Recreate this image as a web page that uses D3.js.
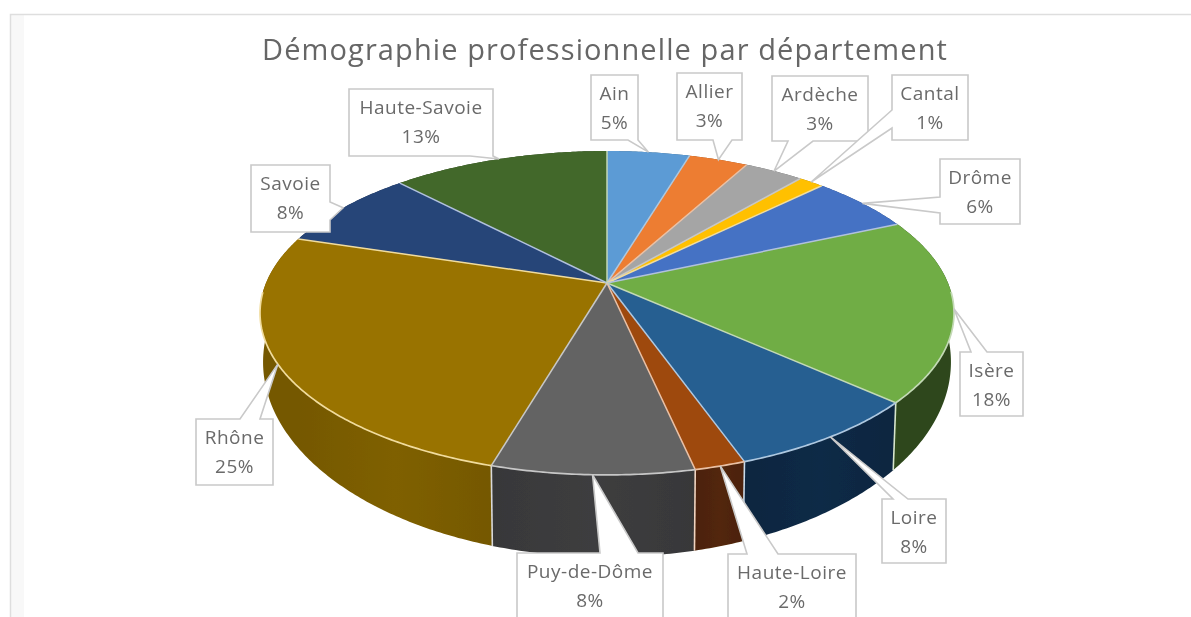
<!DOCTYPE html>
<html><head><meta charset="utf-8">
<script src="https://cdn.jsdelivr.net/npm/d3@7"></script>
<style>html,body{margin:0;padding:0;background:#fff;overflow:hidden}svg{display:block}</style>
</head><body><svg id="c" width="1191" height="617"></svg>
<script>
// ---- data ----
const titleText = "Démographie professionnelle par département";
const departments = ["Ain","Allier","Ardèche","Cantal","Drôme","Isère","Loire","Haute-Loire","Puy-de-Dôme","Rhône","Savoie","Haute-Savoie"];
const shares = [4.6,3.3,3.3,1.4,5.8,18.3,7.9,2.0,7.9,25.3,8.1,12.1];
const shareLabels = ["5%","3%","3%","1%","6%","18%","8%","2%","8%","25%","8%","13%"];
const topColors = ["#5b9bd5","#ed7d31","#a5a5a5","#ffc000","#4472c4","#6fad45","#255e91","#9e480e","#636363","#997300","#264478","#43682b"];
const wallColors = ["#37607f","#8e4b1d","#636363","#997300","#294477","#2f4a1b","#0f2843","#4f2407","#3a3a3c","#7a5c00","#172948","#28401a"];
// ---- label box layout: box rect, side the callout leaves from, base of the callout ----
const labelBoxes = [
 [591,75,47,65,"bottom",628,638],
 [677,73,65,67,"bottom",713,732],
 [772,76,96,65,"bottom",788,813],
 [892,75,76,65,"left",110,128],
 [940,159,80,65,"left",197,213],
 [960,352,63,64,"top",971,987],
 [882,499,64,64,"top",893,908],
 [728,554,128,70,"top",747,778],
 [517,553,146,70,"top",600,638],
 [196,419,77,66,"top",240,260],
 [251,165,79,67,"right",202,220],
 [349,89,144,67,"bottom",470,493]
];

const svg = d3.select("#c");
const defs = svg.append("defs");
defs.append("filter").attr("id","soft").attr("x","-2%").attr("y","-2%").attr("width","104%").attr("height","104%")
  .append("feGaussianBlur").attr("stdDeviation",0.5);

// chart frame
svg.append("rect").attr("x",11).attr("y",15).attr("width",13).attr("height",602).attr("fill","#f8f8f8");
svg.append("path").attr("d","M10.5,617V14.5H1191").attr("fill","none").attr("stroke","#dedede").attr("stroke-width",1.5);

const root = svg.append("g").attr("filter","url(#soft)");

// projection of the tilted disc (perspective): top face and bottom face
const cx = 607;
function projector(y0, A, R, k){
  return (a)=>{
    const u=Math.sin(a), v=-Math.cos(a), w=1-k*v;
    return [cx+R*u/w, y0+A*v/w];
  };
}
const topP = projector(283,156.4,341,0.185);
const botP = projector(326,188.3,338,0.185);
const apex = [cx,283];

const arcs = d3.pie().sort(null).value(d=>d)(shares);
const line = d3.line();
const sample = (a0,a1)=>{
  const n=Math.max(2,Math.ceil((a1-a0)/0.01));
  return d3.range(n+1).map(i=>a0+(a1-a0)*i/n);
};
const pale = (c,l)=>{
  const h=d3.hsl(c);
  h.l=l; h.s=h.s*0.75;
  return h.formatRgb();
};

// walls, back to front
const order = arcs.map((d,i)=>i).sort((a,b)=>{
  const m=d=>-Math.cos((arcs[d].startAngle+arcs[d].endAngle)/2);
  return m(a)-m(b);
});
order.forEach(i=>{
  const d=arcs[i], as=sample(d.startAngle,d.endAngle);
  const g=defs.append("linearGradient").attr("id","w"+i).attr("gradientUnits","userSpaceOnUse")
    .attr("x1",topP(d.startAngle)[0]).attr("x2",topP(d.endAngle)[0]).attr("y1",0).attr("y2",0);
  const base=d3.color(wallColors[i]);
  g.append("stop").attr("offset",0).attr("stop-color",base.darker(0.12));
  g.append("stop").attr("offset",0.5).attr("stop-color",base.brighter(0.12));
  g.append("stop").attr("offset",1).attr("stop-color",base.darker(0.12));
  root.append("path")
    .attr("d",line(as.map(topP).concat(as.slice().reverse().map(botP)))+"Z")
    .attr("fill",`url(#w${i})`);
});
// wall seams on the visible front
arcs.forEach((d,i)=>{
  const a=d.startAngle;
  if(-Math.cos(a)>0.3){
    const t=topP(a), b=botP(a);
    root.append("line").attr("x1",t[0]).attr("y1",t[1]).attr("x2",b[0]).attr("y2",b[1])
      .attr("stroke",pale(topColors[i-1],0.85)).attr("stroke-width",1.6);
  }
});

// top face
arcs.forEach((d,i)=>{
  const pts=sample(d.startAngle,d.endAngle).map(topP);
  root.append("path").attr("d",line([apex].concat(pts))+"Z").attr("fill",topColors[i]);
});
// slice edges and the front rim
arcs.forEach((d,i)=>{
  const col=pale(topColors[i],0.78);
  const e=topP(d.endAngle);
  root.append("line").attr("x1",apex[0]).attr("y1",apex[1]).attr("x2",e[0]).attr("y2",e[1])
    .attr("stroke",col).attr("stroke-width",1.5);
  const as=sample(d.startAngle,d.endAngle).filter(a=>-Math.cos(a)>0.05);
  if(as.length>1) root.append("path").attr("d",line(as.map(topP))).attr("fill","none")
    .attr("stroke",col).attr("stroke-width",1.7);
});

// callouts: the tip sits on the rim at each slice's middle angle
const sides={
  top:(x,y,w,h,b0,b1,t)=>`M${x},${y}H${b0}L${t}L${b1},${y}H${x+w}V${y+h}H${x}Z`,
  bottom:(x,y,w,h,b0,b1,t)=>`M${x},${y}H${x+w}V${y+h}H${b1}L${t}L${b0},${y+h}H${x}Z`,
  left:(x,y,w,h,b0,b1,t)=>`M${x},${y}H${x+w}V${y+h}H${x}V${b1}L${t}L${x},${b0}Z`,
  right:(x,y,w,h,b0,b1,t)=>`M${x},${y}H${x+w}V${b0}L${t}L${x+w},${b1}V${y+h}H${x}Z`
};
arcs.forEach((d,i)=>{
  const [x,y,w,h,side,b0,b1]=labelBoxes[i];
  const tip=topP((d.startAngle+d.endAngle)/2);
  root.append("path").attr("d",sides[side](x,y,w,h,b0,b1,tip.join(",")))
    .attr("fill","#fff").attr("stroke","#c9c9c9").attr("stroke-width",1.6).attr("stroke-linejoin","miter");
  const t=root.append("text").attr("text-anchor","middle").attr("fill","#6a6a6a")
    .attr("font-family","'Open Sans',sans-serif").attr("font-size",19).attr("letter-spacing",0.5);
  t.append("tspan").attr("x",x+w/2).attr("y",y+25).text(departments[i]);
  t.append("tspan").attr("x",x+w/2).attr("y",y+54).text(shareLabels[i]);
});

// title
root.append("text").attr("x",605).attr("y",60).attr("text-anchor","middle")
  .attr("font-family","'Open Sans',sans-serif").attr("font-size",29).attr("letter-spacing",1.1).attr("fill","#666666")
  .text(titleText);
</script></body></html>
